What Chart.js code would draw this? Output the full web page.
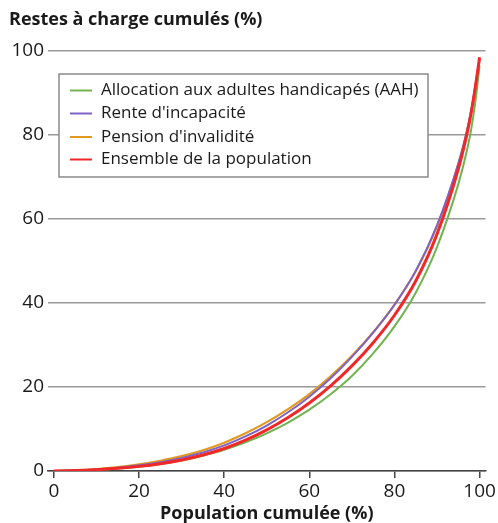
<!DOCTYPE html>
<html>
<head>
<meta charset="utf-8">
<script src="https://cdn.jsdelivr.net/npm/chart.js@4/dist/chart.umd.min.js"></script>
<style>
  html, body { margin: 0; padding: 0; background: #fff; }
  canvas { display: block; }
</style>
</head>
<body>
<canvas id="c" width="498" height="523"></canvas>
<script>
// Population cumulée (%)
const popX = [0, 5, 10, 15, 20, 25, 30, 35, 40, 45, 50, 55, 60, 65, 70, 75, 80, 85, 90, 95, 97, 98, 99, 100];
// Restes à charge cumulés (%) per group
const aah      = [0, 0.10, 0.28, 0.58, 1.02, 1.65, 2.51, 3.65, 5.05, 6.83, 8.98, 11.53, 14.6, 18.28, 22.63, 28.0, 34.43, 42.45, 53.3, 68.3, 76.2, 81.15, 87.9, 96.5];
const rente    = [0, 0.12, 0.38, 0.78, 1.35, 2.10, 3.13, 4.42, 6.10, 8.23, 10.83, 13.98, 17.7, 22.08, 27.18, 32.95, 39.58, 47.65, 58.5, 73.2, 80.9, 85.65, 91.65, 98.2];
const pension  = [0, 0.15, 0.45, 0.93, 1.60, 2.45, 3.53, 4.95, 6.75, 8.98, 11.63, 14.73, 18.3, 22.53, 27.43, 33.05, 39.58, 47.55, 58.3, 73.0, 80.7, 85.45, 91.4, 98.0];
const ensemble = [0, 0.10, 0.30, 0.63, 1.10, 1.75, 2.63, 3.80, 5.35, 7.33, 9.78, 12.73, 16.2, 20.28, 25.03, 30.55, 37.08, 45.25, 56.4, 71.9, 80.1, 85.15, 91.4, 98.5];
const seriesLabels = ["Allocation aux adultes handicapés (AAH)", "Rente d'incapacité", "Pension d'invalidité", "Ensemble de la population"];
const yTicks = [0, 20, 40, 60, 80, 100];
const xTicks = [0, 20, 40, 60, 80, 100];
const yTitle = "Restes à charge cumulés (%)";
const xTitle = "Population cumulée (%)";

const FONT = "'Open Sans', 'Noto Sans', sans-serif";
const colors = ["#72b350", "#7d62c8", "#e19a1e", "#f02828"];
const widths = [2, 2, 2.2, 3];
const orders = [4, 2, 3, 1];

const pts = arr => popX.map((x, i) => ({ x: x, y: arr[i] }));
const allSeries = [aah, rente, pension, ensemble];

const datasets = allSeries.map((s, i) => ({
  label: seriesLabels[i],
  data: pts(s),
  borderColor: colors[i],
  backgroundColor: colors[i],
  borderWidth: widths[i],
  pointRadius: 0,
  fill: false,
  cubicInterpolationMode: 'monotone',
  order: orders[i]
}));

const topTitlePlugin = {
  id: 'topTitle',
  afterDraw(chart) {
    const ctx = chart.ctx;
    ctx.save();
    ctx.fillStyle = '#1a1a1a';
    ctx.font = "bold 18px " + FONT;
    ctx.textAlign = 'left';
    ctx.textBaseline = 'middle';
    ctx.fillText(yTitle, 9, 20);
    ctx.restore();
  }
};

const legendBoxPlugin = {
  id: 'legendBox',
  afterDatasetsDraw(chart) {
    const ctx = chart.ctx;
    const x0 = 59, y0 = 74, w = 369, h = 103;
    ctx.save();
    ctx.fillStyle = '#fff';
    ctx.fillRect(x0, y0, w, h);
    ctx.strokeStyle = '#8a8a8a';
    ctx.lineWidth = 1.5;
    ctx.strokeRect(x0, y0, w, h);
    const rows = [90.5, 113.5, 137, 159.5];
    chart.data.datasets.forEach((ds, i) => {
      const y = rows[i];
      ctx.strokeStyle = ds.borderColor;
      ctx.lineWidth = 2;
      ctx.beginPath();
      ctx.moveTo(70, y);
      ctx.lineTo(92, y);
      ctx.stroke();
      ctx.fillStyle = '#1a1a1a';
      ctx.font = "17px " + FONT;
      ctx.textAlign = 'left';
      ctx.textBaseline = 'middle';
      ctx.fillText(ds.label, 101, y);
    });
    ctx.restore();
  }
};

new Chart(document.getElementById('c'), {
  type: 'line',
  data: { datasets: datasets },
  plugins: [topTitlePlugin, legendBoxPlugin],
  options: {
    responsive: false,
    animation: false,
    events: [],
    layout: { padding: { top: 51, right: 9, left: 0, bottom: 0 } },
    plugins: { legend: { display: false }, tooltip: { enabled: false }, title: { display: false } },
    scales: {
      x: {
        type: 'linear',
        min: -1.4,
        max: 101.4,
        afterFit: s => { s.height = 52; },
        afterBuildTicks: s => { s.ticks = xTicks.map(v => ({ value: v })); },
        ticks: { font: { family: FONT, size: 19 }, color: '#1a1a1a', padding: 2, maxRotation: 0, autoSkip: false },
        grid: { drawOnChartArea: false, drawTicks: true, tickLength: 7, color: '#444', lineWidth: 1.5 },
        border: { display: true, color: '#444', width: 1.5 },
        title: { display: true, text: xTitle, color: '#1a1a1a', font: { family: FONT, size: 18, weight: 'bold', lineHeight: 1 }, padding: { top: 0, bottom: 0 } }
      },
      y: {
        type: 'linear',
        min: 0,
        max: 100,
        afterFit: s => { s.width = 48; },
        afterBuildTicks: s => { s.ticks = yTicks.map(v => ({ value: v })); },
        ticks: { font: { family: FONT, size: 19 }, color: '#1a1a1a', padding: 4 },
        grid: { drawTicks: false, color: '#999', lineWidth: 1.5 },
        border: { display: false }
      }
    }
  }
});
</script>
</body>
</html>
